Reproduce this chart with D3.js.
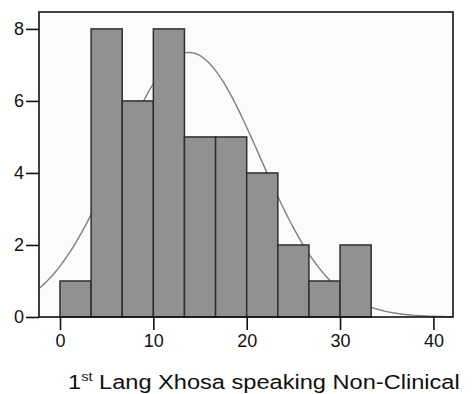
<!DOCTYPE html>
<html>
<head>
<meta charset="utf-8">
<script src="https://cdn.jsdelivr.net/npm/d3@7/dist/d3.min.js"></script>
<style>
  html, body { margin: 0; padding: 0; background: #ffffff; }
  svg { display: block; }
  text { font-family: "Liberation Sans", Arial, sans-serif; fill: #111; }
</style>
</head>
<body>
<svg id="chart" width="475" height="394"></svg>
<script>
// Histogram bins (lower edge, upper edge) and frequencies
const binStarts = [0, 3.333, 6.667, 10, 13.333, 16.667, 20, 23.333, 26.667, 30];
const binWidth = 3.333;
const counts = [1, 8, 6, 8, 5, 5, 4, 2, 1, 2];

// Tick values for both axes
const xTicks = [0, 10, 20, 30, 40];
const yTicks = [0, 2, 4, 6, 8];

// Fitted normal curve parameters
const fitMean = 13.8;
const fitSD = 7.6;

const xLabel = "Lang Xhosa speaking Non-Clinical";

const svg = d3.select("#chart");
const frame = { left: 39, top: 12, right: 453, bottom: 317 };

const x = d3.scaleLinear().domain([-2.25, 42.1]).range([frame.left, frame.right]);
const y = d3.scaleLinear().domain([0, 8.47]).range([frame.bottom, frame.top]);

// Plot background
svg.append("rect")
  .attr("x", frame.left).attr("y", frame.top)
  .attr("width", frame.right - frame.left).attr("height", frame.bottom - frame.top)
  .attr("fill", "#fbfbfb");

// Normal density scaled to counts: N * binWidth * pdf
const total = d3.sum(counts);
const curveX = d3.range(x.domain()[0], x.domain()[1] + 0.001, 0.25);
const curvePts = curveX.map(v => {
  const z = (v - fitMean) / fitSD;
  return [v, total * binWidth * Math.exp(-0.5 * z * z) / (fitSD * Math.sqrt(2 * Math.PI))];
});
svg.append("path")
  .datum(curvePts)
  .attr("fill", "none")
  .attr("stroke", "#808080")
  .attr("stroke-width", 1.4)
  .attr("d", d3.line().x(d => x(d[0])).y(d => y(d[1])));

// Bars
svg.append("g").selectAll("rect")
  .data(counts)
  .join("rect")
  .attr("x", (d, i) => x(binStarts[i]))
  .attr("width", (d, i) => x(binStarts[i] + binWidth) - x(binStarts[i]))
  .attr("y", d => y(d))
  .attr("height", d => y(0) - y(d))
  .attr("fill", "#919191")
  .attr("stroke", "#2e2e2e")
  .attr("stroke-width", 1.5);

// Frame
svg.append("rect")
  .attr("x", frame.left).attr("y", frame.top)
  .attr("width", frame.right - frame.left).attr("height", frame.bottom - frame.top)
  .attr("fill", "none")
  .attr("stroke", "#111")
  .attr("stroke-width", 1.6);

// Y axis
const yAxis = svg.append("g")
  .attr("transform", `translate(${frame.left},0)`)
  .call(d3.axisLeft(y).tickValues(yTicks).tickSize(13).tickPadding(2).tickFormat(d3.format("d")));
yAxis.select(".domain").remove();
yAxis.selectAll(".tick line").attr("stroke", "#111").attr("stroke-width", 1.6);
yAxis.selectAll(".tick text").attr("font-size", 18).attr("font-family", "Liberation Sans, Arial, sans-serif").attr("fill", "#111");

// X axis
const xAxis = svg.append("g")
  .attr("transform", `translate(0,${frame.bottom})`)
  .call(d3.axisBottom(x).tickValues(xTicks).tickSize(13).tickPadding(4).tickFormat(d3.format("d")));
xAxis.select(".domain").remove();
xAxis.selectAll(".tick line").attr("stroke", "#111").attr("stroke-width", 1.6);
xAxis.selectAll(".tick text").attr("font-size", 18).attr("font-family", "Liberation Sans, Arial, sans-serif").attr("fill", "#111");

// Axis title with superscript ordinal, widened to span its slot
const titleX = 68, titleWidth = 392;
const titleG = svg.append("g");
const title = titleG.append("text")
  .attr("x", 0).attr("y", 0)
  .attr("font-size", 21);
title.append("tspan").text("1");
title.append("tspan").attr("font-size", 13).attr("dy", -8).text("st");
title.append("tspan").attr("dy", 8).text(" " + xLabel);
const w = title.node().getBBox().width;
titleG.attr("transform", `translate(${titleX},389) scale(${titleWidth / w},1)`);
</script>
</body>
</html>
